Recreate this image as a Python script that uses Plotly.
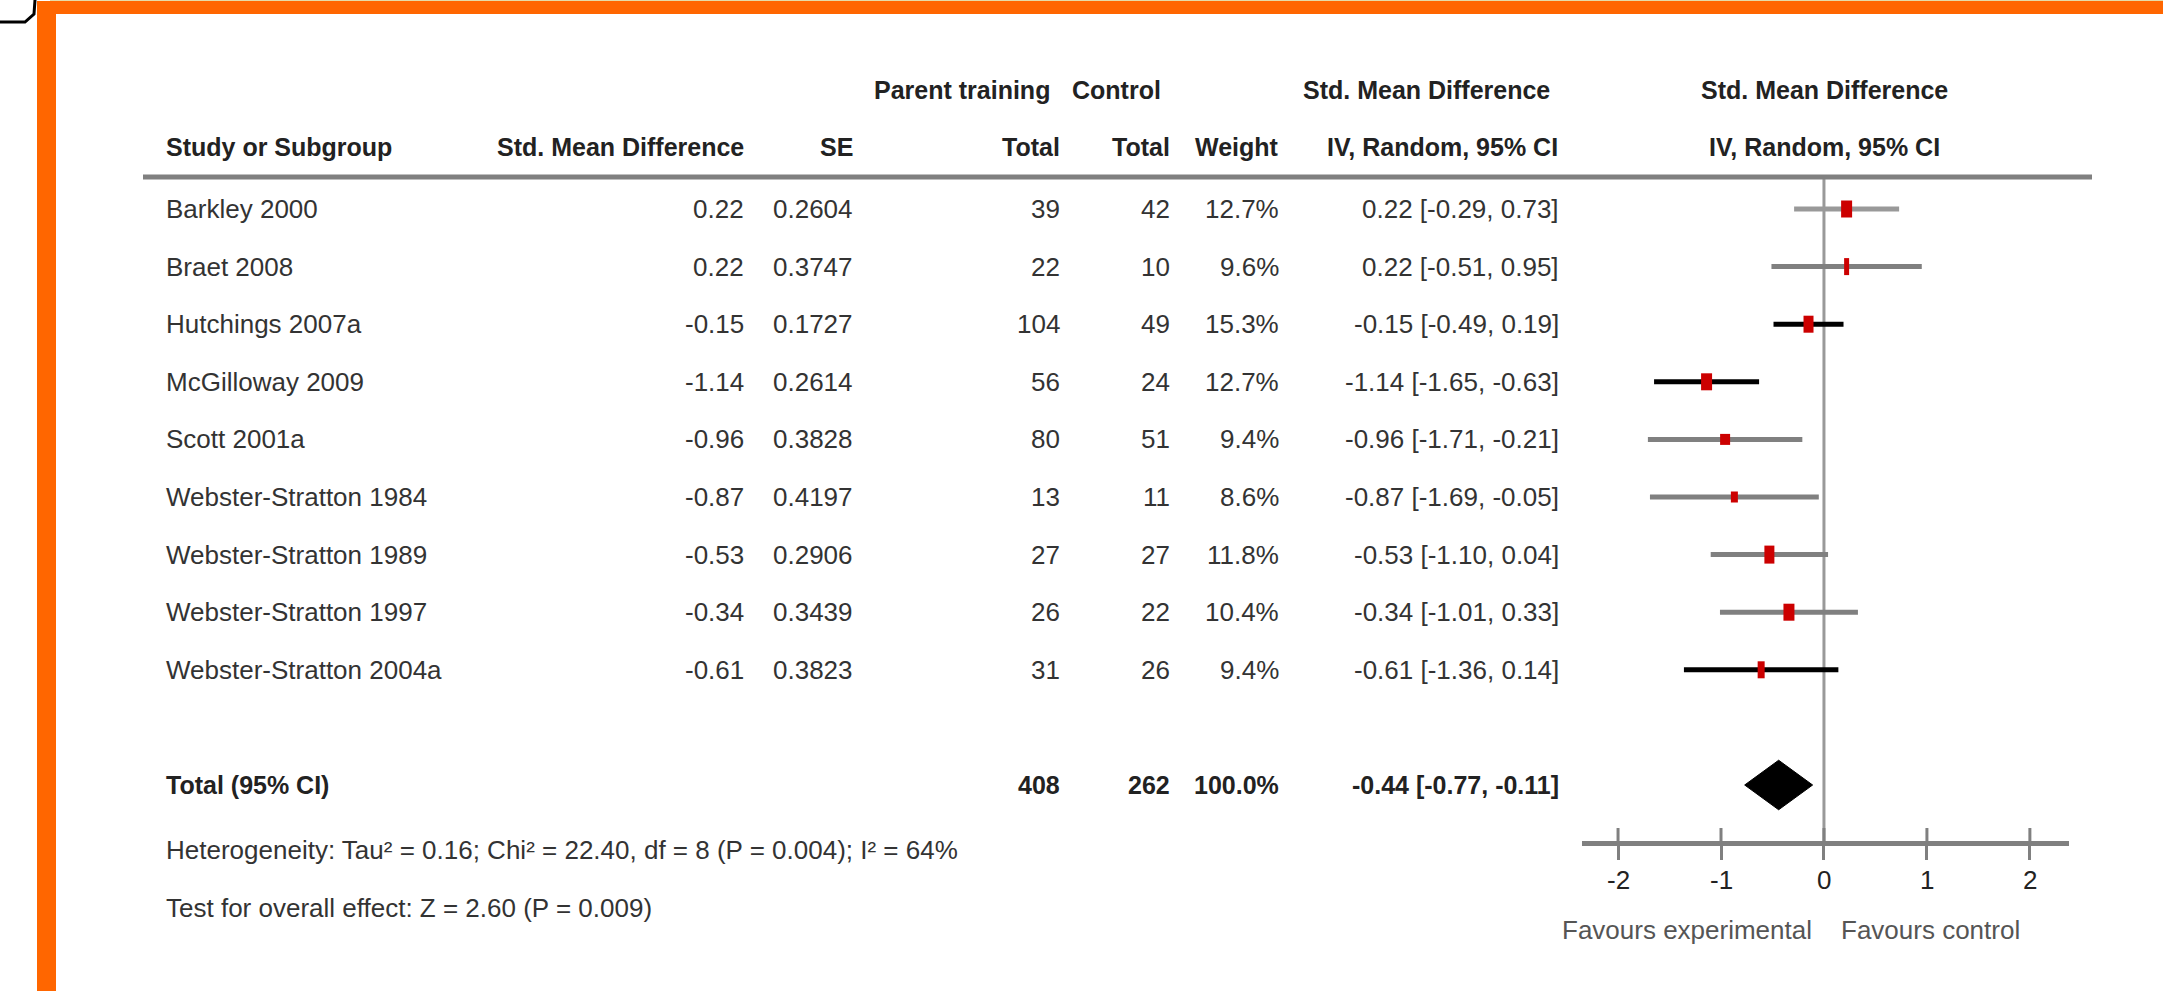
import plotly.graph_objects as go

W, H = 2163, 991

# ---------------- data ----------------
studies = ["Barkley 2000", "Braet 2008", "Hutchings 2007a", "McGilloway 2009", "Scott 2001a",
           "Webster-Stratton 1984", "Webster-Stratton 1989", "Webster-Stratton 1997",
           "Webster-Stratton 2004a"]
smd = [0.22, 0.22, -0.15, -1.14, -0.96, -0.87, -0.53, -0.34, -0.61]
se = [0.2604, 0.3747, 0.1727, 0.2614, 0.3828, 0.4197, 0.2906, 0.3439, 0.3823]
n_pt = [39, 22, 104, 56, 80, 13, 27, 26, 31]
n_ctrl = [42, 10, 49, 24, 51, 11, 27, 22, 26]
weight = [12.7, 9.6, 15.3, 12.7, 9.4, 8.6, 11.8, 10.4, 9.4]
ci_lo = [-0.29, -0.51, -0.49, -1.65, -1.71, -1.69, -1.10, -1.01, -1.36]
ci_hi = [0.73, 0.95, 0.19, -0.63, -0.21, -0.05, 0.04, 0.33, 0.14]

total_pt = 408
total_ctrl = 262
total_weight = 100.0
total_smd = -0.44
total_lo = -0.77
total_hi = -0.11

heterogeneity = "Heterogeneity: Tau² = 0.16; Chi² = 22.40, df = 8 (P = 0.004); I² = 64%"
overall_effect = "Test for overall effect: Z = 2.60 (P = 0.009)"

tick_vals = [-2, -1, 0, 1, 2]
tick_text = ["-2", "-1", "0", "1", "2"]
favours_left = "Favours experimental"
favours_right = "Favours control"

# ---------------- styles ----------------
ci_colors = ["#999999", "#808080", "#000000", "#000000", "#808080",
             "#808080", "#808080", "#808080", "#000000"]
sq_w = [11, 5, 10, 11, 10, 7, 10, 11, 7]     # px width of red estimate boxes
sq_h = [17, 17, 17, 17, 11, 11, 18, 17, 17]  # px height of red estimate boxes
FONT = "Liberation Sans, Arial, sans-serif"
ROW_PX0, ROW_PX = 209.0, 57.6


def px2row(py):
    return (py - ROW_PX0) / ROW_PX


def xp(px):
    return px / W


def yp(py):
    return 1 - py / H


fig = go.Figure()

rows = list(range(len(studies)))
total_row = len(studies) + 1
axis_row = px2row(843)
header_row = px2row(177)

# zero line
fig.add_trace(go.Scatter(x=[0, 0], y=[header_row, axis_row], mode="lines",
                         line=dict(color="#999999", width=3), hoverinfo="skip"))

# confidence intervals
for i in rows:
    fig.add_trace(go.Scatter(x=[ci_lo[i], ci_hi[i]], y=[i, i], mode="lines",
                             line=dict(color=ci_colors[i], width=5), hoverinfo="skip"))

# point estimates (red rectangles, drawn as short thick vertical strokes)
for i in rows:
    hh = sq_h[i] / 2 / ROW_PX
    fig.add_trace(go.Scatter(x=[smd[i], smd[i]], y=[i - hh, i + hh], mode="lines",
                             line=dict(color="#CC0000", width=sq_w[i]), hoverinfo="skip"))

# summary diamond
dh = 0.43
fig.add_trace(go.Scatter(
    x=[total_lo, total_smd, total_hi, total_smd, total_lo],
    y=[total_row, total_row - dh, total_row, total_row + dh, total_row],
    mode="lines", fill="toself", fillcolor="#000000",
    line=dict(color="#000000", width=1), hoverinfo="skip"))

# upper halves of axis ticks
tx, ty = [], []
for t in tick_vals:
    tx += [t, t, None]
    ty += [axis_row - 0.26, axis_row, None]
fig.add_trace(go.Scatter(x=tx, y=ty, mode="lines",
                         line=dict(color="#808080", width=3), hoverinfo="skip"))

# ---------------- text ----------------
ann = []


def add_text(text, xpx, row, anchor, size=26, color="#333333", bold=False):
    if bold:
        text = "<b>" + text + "</b>"
    ann.append(dict(text=text, x=xp(xpx), xref="paper", y=row, yref="y",
                    xanchor=anchor, yanchor="middle", showarrow=False,
                    font=dict(family=FONT, size=size, color=color)))


HS = 25
HC = "#222222"
h1 = px2row(90)
h2 = px2row(147)
add_text("Parent training", 1052, h1, "right", HS, HC, True)
add_text("Control", 1163, h1, "right", HS, HC, True)
add_text("Std. Mean Difference", 1552, h1, "right", HS, HC, True)
add_text("Std. Mean Difference", 1824, h1, "center", HS, HC, True)
add_text("Study or Subgroup", 164, h2, "left", HS, HC, True)
add_text("Std. Mean Difference", 746, h2, "right", HS, HC, True)
add_text("SE", 855, h2, "right", HS, HC, True)
add_text("Total", 1062, h2, "right", HS, HC, True)
add_text("Total", 1172, h2, "right", HS, HC, True)
add_text("Weight", 1281, h2, "right", HS, HC, True)
add_text("IV, Random, 95% CI", 1560, h2, "right", HS, HC, True)
add_text("IV, Random, 95% CI", 1824, h2, "center", HS, HC, True)

for i in rows:
    add_text(studies[i], 164, i, "left")
    add_text(f"{smd[i]:.2f}", 746, i, "right")
    add_text(f"{se[i]:.4f}", 855, i, "right")
    add_text(str(n_pt[i]), 1062, i, "right")
    add_text(str(n_ctrl[i]), 1172, i, "right")
    add_text(f"{weight[i]:.1f}%", 1281, i, "right")
    add_text(f"{smd[i]:.2f} [{ci_lo[i]:.2f}, {ci_hi[i]:.2f}]", 1561, i, "right")

add_text("Total (95% CI)", 164, total_row, "left", HS, HC, True)
add_text(str(total_pt), 1062, total_row, "right", HS, HC, True)
add_text(str(total_ctrl), 1172, total_row, "right", HS, HC, True)
add_text(f"{total_weight:.1f}%", 1281, total_row, "right", HS, HC, True)
add_text(f"{total_smd:.2f} [{total_lo:.2f}, {total_hi:.2f}]", 1561, total_row, "right",
         HS, HC, True)

add_text(heterogeneity, 164, px2row(850), "left", 26)
add_text(overall_effect, 164, px2row(908), "left", 26)
add_text(favours_left, 1814, px2row(930), "right", 26, "#555555")
add_text(favours_right, 1839, px2row(930), "left", 26, "#555555")

# tick labels placed on the forest axis scale
for v, t in zip(tick_vals, tick_text):
    ann.append(dict(text=t, x=v, xref="x", y=px2row(880), yref="y",
                    xanchor="center", yanchor="middle", showarrow=False,
                    font=dict(family=FONT, size=26, color="#222222")))

# ---------------- frame shapes ----------------
shapes = [
    dict(type="line", xref="paper", yref="y", x0=xp(143), x1=xp(2092),
         y0=header_row, y1=header_row, line=dict(color="#808080", width=5)),
    dict(type="rect", xref="paper", yref="paper", x0=xp(37), x1=xp(56), y0=0, y1=yp(1),
         fillcolor="#FF6600", line=dict(width=0), layer="above"),
    dict(type="rect", xref="paper", yref="paper", x0=xp(37), x1=1, y0=yp(14), y1=yp(1),
         fillcolor="#FF6600", line=dict(width=0), layer="above"),
    dict(type="line", xref="paper", yref="paper", x0=xp(50), x1=1, y0=yp(0.5), y1=yp(0.5),
         line=dict(color="#E6DCA8", width=1)),
    dict(type="path", xref="paper", yref="paper",
         path=f"M {xp(0)} {yp(22)} L {xp(25)} {yp(22)} L {xp(34)} {yp(14)} L {xp(35)} {yp(0)}",
         line=dict(color="#000000", width=3)),
]

fig.update_layout(
    width=W, height=H, margin=dict(l=0, r=0, t=0, b=0),
    paper_bgcolor="white", plot_bgcolor="white", showlegend=False,
    annotations=ann, shapes=shapes,
    xaxis=dict(domain=[xp(1582), xp(2069)], range=[-2.35, 2.38], anchor="free",
               position=yp(843), showline=True, linecolor="#808080", linewidth=5,
               ticks="outside", ticklen=14, tickwidth=3, tickcolor="#808080",
               tickvals=tick_vals, showticklabels=False, showgrid=False, zeroline=False),
    yaxis=dict(domain=[0, 1], range=[px2row(H), px2row(0)], visible=False,
               showgrid=False, zeroline=False),
)

fig.write_html("out.html", config={"displayModeBar": False},
               post_script="document.body.style.margin='0px';")
